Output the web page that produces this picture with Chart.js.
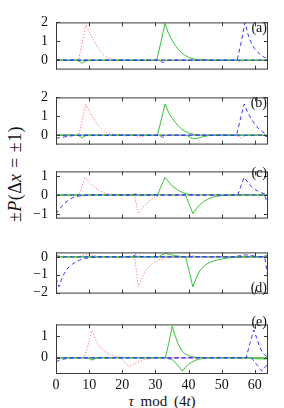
<!DOCTYPE html>
<html>
<head>
<meta charset="utf-8">
<script src="https://cdn.jsdelivr.net/npm/chart.js@4.4.0/dist/chart.umd.min.js"></script>
<style>
  body { margin: 0; background: #fff; width: 284px; height: 408px; position: relative; overflow: hidden; font-family: "Liberation Serif", serif; }
  canvas { position: absolute; left: 0; }
  .tag { position: absolute; font-size: 14px; right: 17px; line-height: 14px; color: #111; }
  #ylabel { position: absolute; left: 15px; top: 174px; font-size: 18px; letter-spacing: 0.4px; white-space: nowrap; transform: translate(-50%, -50%) rotate(-90deg); color: #111; }
  #xlabel { position: absolute; left: 162px; top: 401px; font-size: 15px; white-space: nowrap; transform: translate(-50%, -50%); color: #111; }
  .sp { margin: 0 0.3em; }
  .mod { margin: 0 0.45em; }
</style>
</head>
<body>
<div id="ylabel">&plusmn;<i>P</i>(&Delta;<i>x</i><span class="sp">=</span>&plusmn;1)</div>
<div id="xlabel"><i>&tau;</i><span class="mod">mod</span>(4<i>t</i>)</div>

<script>
// tick labels
const xTicks = [0, 10, 20, 30, 40, 50, 60];
const yTicksA = [0, 1, 2];
const yTicksB = [0, 1, 2];
const yTicksC = [-1, 0, 1];
const yTicksD = [-2, -1, 0];
const yTicksE = [0, 1];

// panel (a)  [tau, value]
const aRedPos = [[0,0],[6.8,0],[7.8,0.85],[9,1.87],[10,1.5],[11,1.2],[12,0.85],[13,0.55],[14,0.34],[15,0.2],[16,0.1],[17,0.05],[18,0.02],[20,0],[64,0]];
const aRedNeg = [[0,0],[54.5,0],[55.8,-0.12],[57,-0.04],[58,0],[64,0]];
const aGreenPos = [[0,0.03],[2,0],[30.4,0],[31.6,0.9],[32.9,1.94],[34,1.4],[35,1.07],[36,0.78],[37,0.55],[38,0.38],[39,0.25],[40,0.15],[41,0.09],[42,0.05],[43,0.03],[45,0.01],[47,0],[64,0]];
const aGreenNeg = [[0,0],[6.5,0],[7.8,-0.16],[8.5,-0.08],[9.5,-0.02],[10.5,0],[64,0]];
const aBluePos = [[0,0.05],[1,0.02],[2,0],[54.7,0],[55.9,0.95],[57,2.0],[58,1.35],[59,0.88],[60,0.6],[61,0.4],[62,0.25],[63,0.14],[64,0.08]];
const aBlueNeg = [[0,0],[31,0],[32.2,-0.13],[33,-0.05],[34,0],[64,0]];

// panel (b)
const bRedPos = [[0,0],[6.9,0],[7.9,0.75],[9,1.65],[10,1.3],[11,0.98],[12,0.7],[13,0.47],[14,0.3],[15,0.18],[16,0.1],[17,0.05],[18,0.02],[20,0],[64,0]];
const bRedNeg = [[0,0],[23.3,0],[24.8,-0.12],[26,-0.08],[27,-0.03],[28,0],[54.5,0],[55.8,-0.15],[57,-0.05],[58,0],[64,0]];
const bGreenPos = [[0,0],[30.6,0],[31.7,0.75],[32.9,1.65],[34,1.2],[35,0.92],[36,0.68],[37,0.48],[38,0.32],[39,0.2],[40,0.12],[41,0.07],[42,0.03],[44,0],[64,0]];
const bGreenNeg = [[0,0],[6.5,0],[7.8,-0.13],[8.7,-0.05],[9.5,0],[39.5,0],[40.5,-0.12],[41.5,-0.19],[43,-0.15],[44,-0.1],[45,-0.06],[46,-0.03],[48,0],[64,0]];
const bBluePos = [[0,0],[54.5,0],[55.6,0.8],[56.8,1.65],[58,1.15],[59,0.85],[60,0.58],[61,0.37],[62,0.22],[63,0.1],[64,0.02]];
const bBlueNeg = [[0,-0.15],[1,-0.14],[2,-0.11],[3,-0.08],[4,-0.05],[5,-0.03],[6,-0.02],[8,0],[31,0],[32.2,-0.12],[33,-0.04],[34,0],[62.5,0],[64,-0.1]];

// panel (c)
const cRedPos = [[0,0],[6.8,0],[7.8,0.45],[8.8,0.94],[10,0.7],[11,0.52],[12,0.36],[13,0.24],[14,0.15],[15,0.09],[16,0.05],[18,0.01],[20,0],[40,0],[41,0.06],[42,0.02],[43,0],[64,0]];
const cRedNeg = [[0,0],[23.7,0],[24.3,-0.5],[24.9,-0.98],[26,-0.7],[27,-0.5],[28,-0.33],[29,-0.2],[30,-0.11],[31,-0.05],[32,-0.02],[34,0],[64,0]];
const cGreenPos = [[0,0],[30.6,0],[31.7,0.45],[32.9,0.94],[34,0.7],[35,0.5],[36,0.35],[37,0.24],[38,0.15],[39,0.08],[40,0.04],[42,0],[64,0]];
const cGreenNeg = [[0,0],[6.8,0],[7.8,-0.05],[9,0],[39.1,0],[40.2,-0.5],[41.3,-0.98],[42.5,-0.7],[43.5,-0.5],[44.5,-0.35],[45.5,-0.25],[46.5,-0.17],[47.5,-0.11],[48.5,-0.07],[50,-0.03],[52,-0.01],[54,0],[64,0]];
const cBluePos = [[0,0],[23,0],[24,0.06],[25,0],[54.8,0],[55.8,0.45],[56.8,0.94],[58,0.66],[59,0.44],[60,0.3],[61,0.2],[62,0.12],[63,0.06],[64,0.03]];
const cBlueNeg = [[0,-1.0],[1,-0.75],[2,-0.55],[3,-0.38],[4,-0.25],[5,-0.15],[6,-0.09],[7,-0.05],[8,-0.03],[10,-0.01],[12,0],[63,0],[64,-0.55]];

// panel (d)
const dRedPos = [[0,0],[7,0],[8,0.08],[9,0.14],[10,0.11],[11,0.08],[12,0.05],[13,0.03],[15,0],[40,0],[41,0.1],[42,0.03],[43,0],[64,0]];
const dRedNeg = [[0,0],[23.7,0],[24.3,-0.85],[24.9,-1.67],[26,-1.15],[27,-0.8],[28,-0.57],[29,-0.4],[30,-0.27],[31,-0.18],[32,-0.12],[33,-0.07],[35,-0.03],[37,0],[64,0]];
const dGreenPos = [[0,0.12],[1,0.04],[2,0],[31,0],[32,0.12],[33,0.19],[34,0.16],[35,0.11],[36,0.07],[37,0.04],[39,0],[62.5,0],[64,0.12]];
const dGreenNeg = [[0,0],[39.1,0],[40.2,-0.8],[41.3,-1.67],[42.5,-1.1],[43.5,-0.75],[44.5,-0.54],[45.5,-0.4],[46.5,-0.3],[47.5,-0.23],[48.5,-0.18],[50,-0.12],[52,-0.06],[54,-0.03],[56,-0.01],[58,0],[64,0]];
const dBluePos = [[0,0],[23,0],[24,0.12],[25,0.05],[26,0],[54,0],[55,0.05],[56,0.09],[57,0.11],[58,0.1],[59,0.07],[60,0.04],[62,0],[64,0]];
const dBlueNeg = [[0,-1.2],[0.9,-1.67],[2,-1.1],[3,-0.75],[4,-0.55],[5,-0.4],[6,-0.28],[7,-0.19],[8,-0.13],[9,-0.08],[10,-0.05],[12,-0.02],[14,0],[63,0],[64,-1.2]];

// panel (e)
const eRedPos = [[0,0],[8.5,0],[9.7,0.6],[10.8,1.26],[12,0.85],[13,0.55],[14,0.38],[15,0.26],[16,0.17],[17,0.11],[18,0.07],[20,0.03],[22,0],[64,0]];
const eRedNeg = [[0,0],[19.5,0],[20.7,-0.2],[21.9,-0.41],[23,-0.33],[24,-0.25],[25,-0.17],[26,-0.11],[27,-0.07],[28,-0.04],[30,-0.01],[32,0],[55,0],[56,-0.06],[57,0],[64,0]];
const eGreenPos = [[0,0],[33,0],[34,0.65],[35.1,1.47],[36,1.0],[37,0.6],[38,0.32],[39,0.18],[40,0.1],[41,0.05],[43,0.01],[45,0],[64,0]];
const eGreenNeg = [[0,-0.05],[1,-0.02],[2,0],[9.5,0],[10.8,-0.1],[12,-0.03],[13,0],[34.5,0],[36.5,-0.3],[38.1,-0.62],[39,-0.45],[40,-0.3],[41,-0.2],[42,-0.12],[43,-0.07],[44,-0.04],[46,-0.01],[48,0],[58,0],[60,-0.04],[62,-0.05],[64,-0.05]];
const eBluePos = [[0,0],[57.4,0],[58.5,0.65],[59.7,1.29],[60.5,0.95],[61.5,0.5],[62.5,0.2],[63.5,0.08],[64,0.05]];
const eBlueNeg = [[0,-0.18],[1,-0.12],[2,-0.07],[3,-0.04],[4,-0.02],[6,0],[33,0],[34.5,-0.06],[35.5,-0.02],[37,0],[59,0],[60.5,-0.3],[62.2,-0.62],[63,-0.45],[64,-0.25]];

const RED = '#ff7070', GREEN = '#33c433', BLUE = '#3838ff';

// frame + inward ticks, like the gnuplot original
const framePlugin = {
  id: 'frame',
  afterDraw(chart) {
    const ctx = chart.ctx, a = chart.chartArea, sx = chart.scales.x, sy = chart.scales.y;
    ctx.save();
    ctx.strokeStyle = '#3a3a3a';
    ctx.lineWidth = 1;
    ctx.beginPath();
    xTicks.forEach(function(v) {
      const px = Math.round(sx.getPixelForValue(v)) + 0.5;
      ctx.moveTo(px, a.bottom); ctx.lineTo(px, a.bottom - 4);
      ctx.moveTo(px, a.top); ctx.lineTo(px, a.top + 4);
    });
    sy.ticks.forEach(function(t) {
      const py = Math.round(sy.getPixelForValue(t.value)) + 0.5;
      ctx.moveTo(a.left, py); ctx.lineTo(a.left + 4, py);
      ctx.moveTo(a.right, py); ctx.lineTo(a.right - 4, py);
    });
    ctx.stroke();
    ctx.strokeRect(a.left + 0.5, a.top + 0.5, a.right - a.left - 1, a.bottom - a.top - 1);
    ctx.restore();
  }
};

function line(data, color, dash) {
  return {
    data: data.map(function(p) { return {x: p[0], y: p[1]}; }),
    borderColor: color,
    borderWidth: 1,
    borderDash: dash,
    pointRadius: 0,
    tension: 0,
    fill: false
  };
}

const panels = [
  {tag: '(a)', top: 16, bottom: 76, min: -0.5, max: 2, ticks: yTicksA, tagY: 28, sets: [aBluePos, aBlueNeg, aGreenPos, aGreenNeg, aRedPos, aRedNeg]},
  {tag: '(b)', top: 91, bottom: 151, min: -0.5, max: 2, ticks: yTicksB, tagY: 103, sets: [bBluePos, bBlueNeg, bGreenPos, bGreenNeg, bRedPos, bRedNeg]},
  {tag: '(c)', top: 165, bottom: 225, min: -1.25, max: 1.25, ticks: yTicksC, tagY: 173, sets: [cBluePos, cBlueNeg, cGreenPos, cGreenNeg, cRedPos, cRedNeg]},
  {tag: '(d)', top: 246, bottom: 300, min: -2.05, max: 0.25, ticks: yTicksD, tagY: 288, sets: [dBluePos, dBlueNeg, dGreenPos, dGreenNeg, dRedPos, dRedNeg]},
  {tag: '(e)', top: 318, bottom: 374, min: -0.75, max: 1.55, ticks: yTicksE, tagY: 322, sets: [eBluePos, eBlueNeg, eGreenPos, eGreenNeg, eRedPos, eRedNeg]}
];

const tickFont = {family: '"Liberation Serif", serif', size: 14};

panels.forEach(function(p, i) {
  const last = i === panels.length - 1;
  const canvas = document.createElement('canvas');
  const h = (p.bottom - p.top) + 10 + (last ? 34 : 10);
  canvas.width = 284;
  canvas.height = h;
  canvas.style.top = (p.top - 10) + 'px';
  document.body.appendChild(canvas);

  const colors = [BLUE, BLUE, GREEN, GREEN, RED, RED];
  const dashes = [[4, 3], [4, 3], [], [], [1.2, 1.8], [1.2, 1.8]];

  new Chart(canvas.getContext('2d'), {
    type: 'line',
    data: {
      datasets: p.sets.map(function(s, k) { return line(s, colors[k], dashes[k]); })
    },
    options: {
      responsive: false,
      animation: false,
      devicePixelRatio: 1,
      layout: {padding: {top: 10, bottom: last ? 0 : 10, left: 0, right: 16}},
      plugins: {legend: {display: false}, tooltip: {enabled: false}},
      scales: {
        x: {
          type: 'linear',
          min: 0, max: 64,
          display: last,
          grid: {display: false, drawTicks: false},
          border: {display: false},
          afterBuildTicks: function(scale) { scale.ticks = xTicks.map(function(v) { return {value: v}; }); },
          afterFit: function(scale) { if (last) scale.height = 34; },
          ticks: {font: tickFont, color: '#111', padding: 3, maxRotation: 0}
        },
        y: {
          min: p.min, max: p.max,
          grid: {display: false, drawTicks: false},
          border: {display: false},
          afterBuildTicks: function(scale) { scale.ticks = p.ticks.map(function(v) { return {value: v}; }); },
          afterFit: function(scale) { scale.width = 56; },
          ticks: {
            font: tickFont, color: '#111', padding: 8,
            callback: function(v) { return String(v).replace('-', '\u2212'); }
          }
        }
      }
    },
    plugins: [framePlugin]
  });

  const tag = document.createElement('div');
  tag.className = 'tag';
  tag.textContent = p.tag;
  tag.style.top = (p.tagY - 7) + 'px';
  document.body.appendChild(tag);
});
</script>
</body>
</html>
